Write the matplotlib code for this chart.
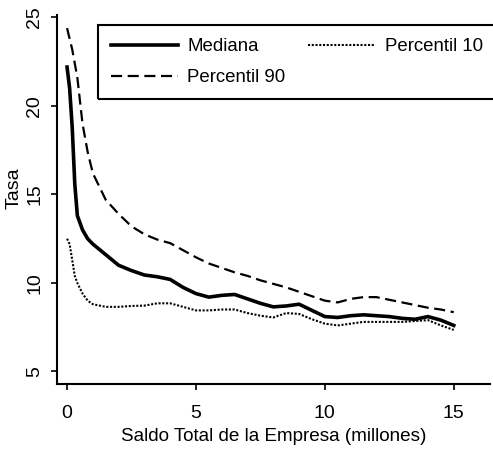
import numpy as np
import matplotlib
matplotlib.use("Agg")
import matplotlib.pyplot as plt
from matplotlib.patches import Rectangle

plt.rcParams['font.family'] = ['Liberation Sans', 'DejaVu Sans']

# saldo total (millones) y tasas
saldo = [0, 0.1, 0.2, 0.3, 0.4, 0.6, 0.8, 1.0, 1.5, 2, 2.5, 3, 3.5, 4, 4.5, 5,
         5.5, 6, 6.5, 7, 7.5, 8, 8.5, 9, 9.5, 10, 10.5, 11, 11.5, 12, 12.5,
         13, 13.5, 14, 14.5, 15]
mediana = [22.2, 21.0, 18.8, 15.6, 13.8, 13.0, 12.5, 12.2, 11.6, 11.0, 10.7,
           10.45, 10.35, 10.2, 9.75, 9.4, 9.2, 9.3, 9.35, 9.1, 8.85, 8.65,
           8.7, 8.8, 8.45, 8.1, 8.05, 8.15, 8.2, 8.15, 8.1, 8.0, 7.95, 8.1,
           7.9, 7.6]
p90 = [24.4, 23.8, 23.2, 22.4, 21.6, 19.0, 17.4, 16.2, 14.7, 13.9, 13.2,
       12.75, 12.45, 12.25, 11.85, 11.45, 11.1, 10.85, 10.6, 10.4, 10.15,
       9.95, 9.75, 9.5, 9.25, 9.0, 8.9, 9.1, 9.2, 9.2, 9.05, 8.9, 8.75, 8.6,
       8.5, 8.35]
p10 = [12.5, 12.2, 11.3, 10.4, 10.0, 9.4, 9.0, 8.8, 8.65, 8.65, 8.7, 8.72,
       8.85, 8.85, 8.65, 8.45, 8.45, 8.5, 8.5, 8.3, 8.15, 8.05, 8.3, 8.25,
       7.95, 7.7, 7.6, 7.7, 7.8, 7.8, 7.8, 7.8, 7.85, 7.9, 7.6, 7.35]

fig = plt.figure(figsize=(4.93, 4.55), dpi=100)
ax = fig.add_axes([0.1156, 0.156, 0.878, 0.811])

ax.plot(saldo, mediana, color='black', lw=2.6, label='Mediana')
ax.plot(saldo, p90, color='black', lw=1.6, ls=(0, (5, 2.5)), label='Percentil 90')
ax.plot(saldo, p10, color='black', lw=1.5, ls=(0, (1, 0.8)), label='Percentil 10')

ax.set_xlim(-0.39, 16.4)
ax.set_ylim(4.29, 25.14)
ax.set_xticks([0, 5, 10, 15])
ax.set_yticks([5, 10, 15, 20, 25])
ax.spines['top'].set_visible(False)
ax.spines['right'].set_visible(False)
ax.spines['left'].set_linewidth(1.5)
ax.spines['bottom'].set_linewidth(1.5)
ax.tick_params(direction='out', length=4, width=1.2, labelsize=14)
ax.tick_params(axis='x', pad=11)
ax.tick_params(axis='y', pad=6)
for lab in ax.get_yticklabels():
    lab.set_rotation(90)
    lab.set_va('center')

ax.set_xlabel('Saldo Total de la Empresa (millones)', fontsize=13.6)
ax.xaxis.set_label_coords(0.5, -0.119)
ax.set_ylabel('Tasa', fontsize=14)
ax.yaxis.set_label_coords(-0.08, 0.53)

leg = ax.legend(ncol=2, loc='upper left', bbox_to_anchor=(0.094, 0.973, 0.92, 0.0),
                mode='expand', fontsize=13.4, frameon=False,
                handlelength=3.6, borderaxespad=0,
                handletextpad=0.5, labelspacing=0.75, borderpad=0.7)

# recuadro de la leyenda, se sale por la derecha como en el original
fig.patches.append(Rectangle((98 / 493, 1 - 99 / 455), 410 / 493, 74 / 455,
                             transform=fig.transFigure, fill=False,
                             edgecolor='black', lw=1.5))

fig.savefig('out.png', dpi=100)
